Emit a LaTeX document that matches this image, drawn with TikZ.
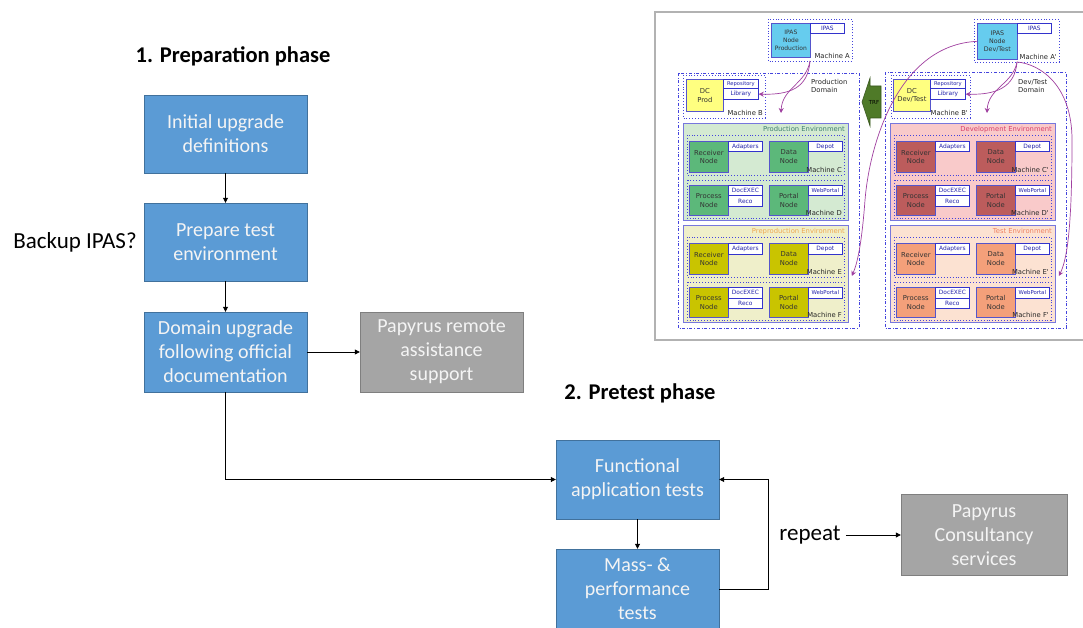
\documentclass[tikz,border=0pt]{standalone}
\usepackage{fontspec}
\setmainfont{Carlito}
\newfontfamily\dvs{DejaVu Sans}
\usetikzlibrary{arrows.meta,calc}
\definecolor{bfill}{HTML}{5B9BD5}
\definecolor{bdraw}{HTML}{41719C}
\definecolor{gfill}{HTML}{A5A5A5}
\definecolor{gdraw}{HTML}{7F7F7F}
\definecolor{txtw}{HTML}{F4F4F4}
\definecolor{ipascol}{HTML}{66CCEE}
\definecolor{dccol}{HTML}{FFFF80}
\definecolor{envprod}{HTML}{D4EAD2}
\definecolor{nodeprod}{HTML}{5CB87A}
\definecolor{envpre}{HTML}{EFEFCA}
\definecolor{nodepre}{HTML}{C9C400}
\definecolor{envdev}{HTML}{F9CACA}
\definecolor{nodedev}{HTML}{BC5C5C}
\definecolor{envtest}{HTML}{FCE2D2}
\definecolor{nodetest}{HTML}{F4A07A}
\definecolor{ttlprod}{HTML}{3E8070}
\definecolor{ttldev}{HTML}{D8406A}
\definecolor{ttlpre}{HTML}{F0A850}
\definecolor{ttltest}{HTML}{F08060}
\definecolor{envline}{HTML}{7777DD}
\definecolor{nodeline}{HTML}{5555CC}
\definecolor{tagline}{HTML}{3333CC}
\definecolor{tagtext}{HTML}{2222AA}
\definecolor{machline}{HTML}{4444DD}
\definecolor{purp}{HTML}{A040A0}
\definecolor{trfgreen}{HTML}{4F7A28}
\tikzset{
  bluebox/.style={draw=bdraw, fill=bfill, text=txtw, align=center, minimum width=163, minimum height=78, inner sep=2pt, font=\fontsize{20}{24}\selectfont},
  graybox/.style={draw=gdraw, fill=gfill, text=txtw, align=center, minimum width=163, minimum height=80, inner sep=2pt, font=\fontsize{20}{24}\selectfont},
  plain/.style={font=\fontsize{23}{26}\selectfont, inner sep=1pt},
  heading/.style={font=\bfseries\fontsize{22.5}{26}\selectfont, inner sep=1pt},
  arr/.style={-{Triangle[length=5pt,width=5pt]}, black, line width=0.8pt},
  inode/.style={draw=nodeline, line width=0.7pt, anchor=north west, align=center, inner sep=0pt, text=black!80, font=\dvs\fontsize{6.8}{8.6}\selectfont},
  itag/.style={draw=tagline, fill=white, line width=0.7pt, anchor=north west, inner sep=0pt, minimum width=34, minimum height=10.5, text=tagtext, font=\dvs\fontsize{5.9}{6}\selectfont},
  mach/.style={draw=machline, dotted, line width=0.9pt},
  dom/.style={draw=machline, dash dot, line width=0.9pt},
  mlabel/.style={font=\dvs\fontsize{6.8}{8.4}\selectfont, text=black!85, inner sep=1pt},
  parrow/.style={draw=purp, line width=0.7pt, -{Stealth[length=5pt,width=5pt]}},
}
\newcommand\EnvBlock[7]{%
  \node[draw=envline, fill=#2, line width=0.8pt, anchor=north west, minimum width=165, minimum height=97, inner sep=0pt] (#1) at (0,0) {};
  \node[anchor=north east, text=#4, font=\dvs\fontsize{6.8}{7}\selectfont, inner sep=1pt] (#1title) at (163,2.5) {#3};
  \draw[mach] (4,12) rectangle (161,52);
  \node[inode, fill=#5, minimum width=39, minimum height=31] (#1rec) at (6,18) {Receiver\\Node};
  \node[itag] (#1ada) at (45,18) {Adapters};
  \node[inode, fill=#5, minimum width=39, minimum height=31] (#1dat) at (86,18) {Data\\Node};
  \node[itag] (#1dep) at (125,18) {Depot};
  \node[mlabel, anchor=south east] (#1m1) at (160,51) {#6};
  \draw[mach] (4,57) rectangle (161,95);
  \node[inode, fill=#5, minimum width=39, minimum height=30] (#1pro) at (6,62) {Process\\Node};
  \node[itag] (#1doc) at (45,62) {DocEXEC};
  \node[itag] (#1rco) at (45,72.5) {Reco};
  \node[inode, fill=#5, minimum width=39, minimum height=30] (#1por) at (86,62) {Portal\\Node};
  \node[itag, font=\dvs\fontsize{5.4}{6}\selectfont] (#1web) at (125,62) {WebPortal};
  \node[mlabel, anchor=south east] (#1m2) at (160,94) {#7};
}
\begin{document}
\begin{tikzpicture}[x=1pt,y=-1pt]
\useasboundingbox (0,0) rectangle (1083,628);
\fill[white] (0,0) rectangle (1083,628);

% ---------- main flow ----------
\node[heading] (h1) at (233,56) {1. Preparation phase};
\node[heading] (h2) at (640,393) {2. Pretest phase};
\node[bluebox] (b1) at (225.5,134) {Initial upgrade\\definitions};
\node[bluebox] (b2) at (225.5,242) {Prepare test\\environment};
\node[bluebox, minimum height=80] (b3) at (225.5,352) {Domain upgrade\\following official\\documentation};
\node[graybox] (g1) at (441.5,352) {Papyrus remote\\assistance\\support};
\node[plain] (bk) at (75,242) {Backup IPAS?};
\node[bluebox, minimum height=79] (b4) at (637.5,479.5) {Functional\\application tests};
\node[bluebox, minimum height=80] (b5) at (637.5,589) {Mass- \&\\performance\\tests};
\node[plain, minimum height=26] (rep) at (810,535) {repeat};
\node[graybox, minimum width=166, minimum height=81] (g2) at (984,535) {Papyrus\\Consultancy\\services};
\coordinate (loopR) at (768,589);

\draw[arr] (b1.south) -- (b2.north);
\draw[arr] (b2.south) -- (b3.north);
\draw[arr] (b3.east) -- (g1.west);
\draw[arr] (b3.south) |- (b4.west);
\draw[arr] (b4.south) -- (b5.north);
\draw[arr] (b5.east) -- (loopR) |- (b4.east);
\draw[arr] ([xshift=4pt]rep.east) -- (g2.west);

% ---------- inset ----------
\draw[draw=gray!60, fill=white, line width=2.5pt] (655,12) rectangle (1095,340);

% machine A / A'
\draw[mach] (768,19) rectangle (852,61);
\node[inode, fill=ipascol, minimum width=39, minimum height=34, font=\dvs\fontsize{6}{8}\selectfont] (ipasP) at (771,23) {IPAS\\Node\\Production};
\node[itag] (ipasPt) at (810,23) {IPAS};
\node[mlabel, anchor=south east] (mA) at (851,60) {Machine A};
\draw[mach] (974,19) rectangle (1059,62);
\node[inode, fill=ipascol, minimum width=40, minimum height=36, font=\dvs\fontsize{6.3}{8}\selectfont] (ipasD) at (977,23) {IPAS\\Node\\Dev/Test};
\node[itag] (ipasDt) at (1017,23) {IPAS};
\node[mlabel, anchor=south east] (mA2) at (1058,61) {Machine A'};

% domains
\draw[dom] (678,73) rectangle (859,328);
\draw[dom] (885,72) rectangle (1066,328);
\node[mlabel, align=left, anchor=north west] (pdom) at (810,78) {Production\\Domain};
\node[mlabel, align=left, anchor=north west] (ddom) at (1017,78) {Dev/Test\\Domain};

% machine B / B'
\draw[mach] (683,75) rectangle (765,118);
\node[inode, fill=dccol, minimum width=37, minimum height=32] (dcP) at (686,79) {DC\\Prod};
\node[itag, minimum width=35, minimum height=9.5, font=\dvs\fontsize{5.2}{6}\selectfont] (repP) at (723,79) {Repository};
\node[itag, minimum width=35, minimum height=10.5] (libP) at (723,88.5) {Library};
\node[mlabel, anchor=south east] (mB) at (764,117) {Machine B};
\draw[mach] (891,75) rectangle (970,118);
\node[inode, fill=dccol, minimum width=37, minimum height=32] (dcD) at (893,79) {DC\\Dev/Test};
\node[itag, minimum width=35, minimum height=9.5, font=\dvs\fontsize{5.2}{6}\selectfont] (repD) at (930,79) {Repository};
\node[itag, minimum width=35, minimum height=10.5] (libD) at (930,88.5) {Library};
\node[mlabel, anchor=south east] (mB2) at (969,117) {Machine B'};

% environments
\begin{scope}[shift={(683,123)}]
\EnvBlock{pe}{envprod}{Production Environment}{ttlprod}{nodeprod}{Machine C}{Machine D}
\end{scope}
\begin{scope}[shift={(683,225)}]
\EnvBlock{pp}{envpre}{Preproduction Environment}{ttlpre}{nodepre}{Machine E}{Machine F}
\end{scope}
\begin{scope}[shift={(890,123)}]
\EnvBlock{de}{envdev}{Development Environment}{ttldev}{nodedev}{Machine C'}{Machine D'}
\end{scope}
\begin{scope}[shift={(890,225)}]
\EnvBlock{te}{envtest}{Test Environment}{ttltest}{nodetest}{Machine E'}{Machine F'}
\end{scope}

% TRF arrow
\draw[fill=trfgreen, draw=trfgreen!70!black, line width=0.6pt] (862,102) -- (870,78) -- (870,86) -- (881,86) -- (881,118) -- (870,118) -- (870,126) -- cycle;
\node[font=\dvs\fontsize{5.5}{6}\selectfont, inner sep=0pt] (trf) at (874,102) {TRF};

% purple connectors
\coordinate (pA) at (810,61);
\coordinate (dA) at (1017,62);
\coordinate (pEnv) at (781,113);
\coordinate (dEnv) at (987,113);
\draw[parrow] (pA) .. controls (808,88) and (790,95) .. (libP.east);
\draw[parrow] (pA) .. controls (806,84) and (782,88) .. (pEnv);
\draw[parrow] (dA) .. controls (1015,88) and (995,95) .. (libD.east);
\draw[parrow] (dA) .. controls (1013,84) and (988,88) .. (dEnv);
\draw[parrow] (ipasD.west) .. controls (900,45) and (870,140) .. (865,200) .. controls (862,240) and (858,262) .. ([xshift=3pt]pp.east |- ppm1.south);
\draw[parrow] (dA) .. controls (1040,64) and (1072,85) .. (1072,140) .. controls (1072,220) and (1068,258) .. ([xshift=3pt]te.east |- tem1.south);
\end{tikzpicture}
\end{document}
